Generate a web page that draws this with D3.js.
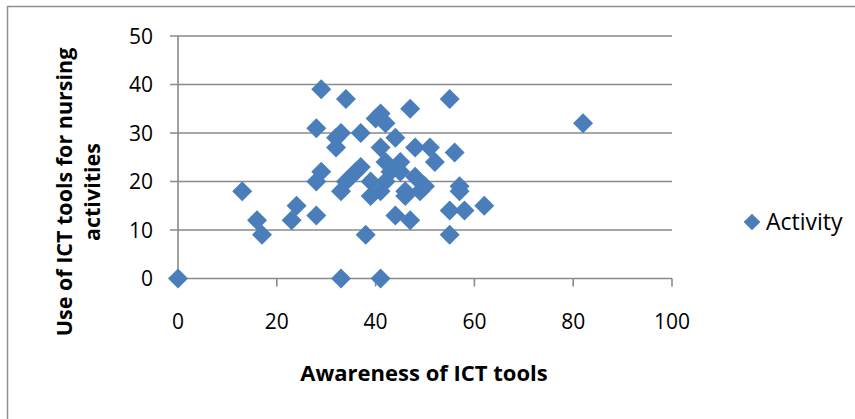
<!DOCTYPE html>
<html>
<head>
<meta charset="utf-8">
<script src="https://cdn.jsdelivr.net/npm/d3@7"></script>
<style>
  body { margin: 0; background: #fff; }
  text { font-family: "Open Sans", "Noto Sans", sans-serif; fill: #000; }
</style>
</head>
<body>
<div id="chart"></div>
<script>
// Awareness of ICT tools (x) vs use for nursing activities (y)
var awareness = [0, 13, 16, 17, 23, 24, 28, 28, 29, 28, 29, 32, 32, 33, 33, 33, 34, 34, 35, 36,
  37, 37, 38, 39, 39, 40, 41, 42, 41, 41, 41, 42, 42, 44, 44, 45, 45, 46, 46, 47,
  47, 48, 48, 49, 50, 51, 52, 55, 55, 55, 56, 57, 57, 58, 62, 82, 43];
var activity = [0, 18, 12, 9, 12, 15, 13, 20, 22, 31, 39, 27, 29, 30, 18, 0, 37, 20, 21, 22,
  23, 30, 9, 20, 17, 33, 34, 32, 27, 18, 0, 20, 24, 29, 13, 24, 22, 18, 17, 35,
  12, 27, 21, 18, 19, 27, 24, 37, 14, 9, 26, 19, 18, 14, 15, 32, 22];
var xTicks = [0, 20, 40, 60, 80, 100];
var yTicks = [0, 10, 20, 30, 40, 50];
var seriesName = "Activity";

var data = awareness.map(function(a, i) { return {x: a, y: activity[i]}; });

var svg = d3.select("#chart").append("svg")
    .attr("width", 855)
    .attr("height", 419);

var blue = "#4a7ebb", grid = "#8a8a8a";

// outer frame (only top and left edges show)
svg.append("rect")
    .attr("x", 7.5).attr("y", 6.5)
    .attr("width", 900).attr("height", 500)
    .attr("fill", "none")
    .attr("stroke", "#8f8f8f")
    .attr("stroke-width", 1.5);

var x = d3.scaleLinear().domain([0, 100]).range([178, 672]);
var y = d3.scaleLinear().domain([0, 50]).range([278.5, 36]);

// horizontal gridlines + left ticks
svg.append("g").selectAll("line")
    .data(yTicks)
  .enter().append("line")
    .attr("x1", 170).attr("x2", x(100))
    .attr("y1", function(d) { return y(d); })
    .attr("y2", function(d) { return y(d); })
    .attr("stroke", grid)
    .attr("stroke-width", 1.6);

// y axis line
svg.append("line")
    .attr("x1", x(0)).attr("x2", x(0))
    .attr("y1", y(50)).attr("y2", y(0))
    .attr("stroke", grid).attr("stroke-width", 1.6);

// x ticks down
svg.append("g").selectAll("line")
    .data(xTicks)
  .enter().append("line")
    .attr("x1", function(d) { return x(d); })
    .attr("x2", function(d) { return x(d); })
    .attr("y1", y(0)).attr("y2", y(0) + 8)
    .attr("stroke", grid)
    .attr("stroke-width", 1.6);

svg.append("g").selectAll("text")
    .data(yTicks)
  .enter().append("text")
    .attr("x", 153)
    .attr("y", function(d) { return y(d); })
    .attr("dy", "0.36em")
    .attr("text-anchor", "end")
    .style("font-size", "21px")
    .text(function(d) { return d; });

svg.append("g").selectAll("text")
    .data(xTicks)
  .enter().append("text")
    .attr("x", function(d) { return x(d); })
    .attr("y", 329)
    .attr("text-anchor", "middle")
    .style("font-size", "21px")
    .text(function(d) { return d; });

// axis titles
svg.append("text")
    .attr("x", 424).attr("y", 381)
    .attr("text-anchor", "middle")
    .style("font-size", "22px")
    .style("font-weight", "bold")
    .text("Awareness of ICT tools");

var yt = svg.append("text")
    .attr("transform", "translate(0,192) rotate(-90)")
    .attr("text-anchor", "middle")
    .style("font-size", "21.5px")
    .style("font-weight", "bold");
yt.append("tspan").attr("x", 0).attr("y", 72).text("Use of ICT tools for nursing");
yt.append("tspan").attr("x", 0).attr("y", 100).text("activities");

// points
var diamond = d3.symbol().type(d3.symbolSquare).size(200);
svg.append("g").selectAll("path")
    .data(data)
  .enter().append("path")
    .attr("d", diamond)
    .attr("transform", function(d) { return "translate(" + x(d.x) + "," + y(d.y) + ") rotate(45)"; })
    .attr("fill", blue);

// legend
svg.append("path")
    .attr("d", d3.symbol().type(d3.symbolSquare).size(140))
    .attr("transform", "translate(752,222) rotate(45)")
    .attr("fill", blue);
svg.append("text")
    .attr("x", 766).attr("y", 230)
    .style("font-size", "23px")
    .text(seriesName);
</script>
</body>
</html>
